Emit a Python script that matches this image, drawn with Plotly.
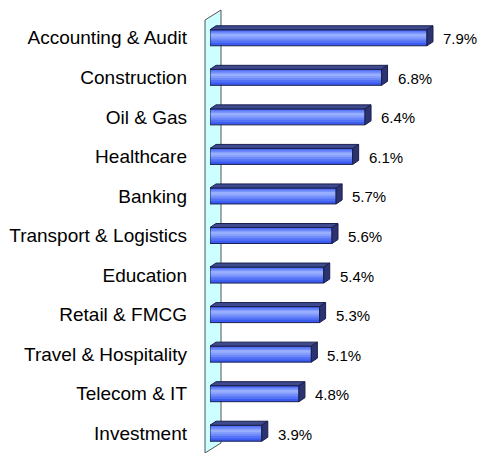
import plotly.graph_objects as go

categories = ["Accounting & Audit", "Construction", "Oil & Gas", "Healthcare", "Banking",
              "Transport & Logistics", "Education", "Retail & FMCG", "Travel & Hospitality",
              "Telecom & IT", "Investment"]
values = [7.9, 6.8, 6.4, 6.1, 5.7, 5.6, 5.4, 5.3, 5.1, 4.8, 3.9]
labels = [f"{v}%" for v in values]

# layout constants
W, H = 477, 453
ML, MR, MT, MB = 210, 7, 18, 0
PW, PH = W - ML - MR, H - MT - MB
XMIN = 2.646
XMAX = XMIN + PW / 41.3
n = len(categories)
YR = [n - 0.5, -0.5]
x_per_px = (XMAX - XMIN) / PW
y_per_px = n / PH
BAR_W = 16 * y_per_px
DX, DY = 6 * x_per_px, 4 * y_per_px   # 3D depth offsets

pos = list(range(n))
fig = go.Figure()

# front face: layered bars to imitate gradient
layers = [
    (1.00, 0.50, "#3a5bf0"),
    (0.78, 0.44, "#5472f5"),
    (0.55, 0.40, "#6d89fa"),
    (0.32, 0.38, "#869ffd"),
    (0.12, 0.36, "#98aeff"),
]
for k, (frac, cfrac, col) in enumerate(layers):
    w = BAR_W * frac
    off = -BAR_W / 2 + cfrac * BAR_W - w / 2
    fig.add_trace(go.Bar(
        x=[v - XMIN for v in values], base=XMIN, y=pos, orientation="h",
        width=w, offset=off,
        marker=dict(color=col, line=dict(width=0)),
        hoverinfo="skip", showlegend=False,
    ))
# outline
fig.add_trace(go.Bar(
    x=[v - XMIN for v in values], base=XMIN, y=pos, orientation="h",
    width=BAR_W, offset=-BAR_W / 2,
    marker=dict(color="rgba(0,0,0,0)", line=dict(width=1, color="#1c1f4f")),
    hoverinfo="skip", showlegend=False,
))

shapes = []
# back wall
shapes.append(dict(
    type="path", xref="paper", yref="paper", xsizemode="pixel", ysizemode="pixel",
    xanchor=0, yanchor=0, path="M -5,0 L -5,433 L 11,443 L 11,10 Z",
    fillcolor="#ccffff", line=dict(color="#555555", width=1), layer="below",
))
for i, v in enumerate(values):
    top = i - BAR_W / 2
    bot = i + BAR_W / 2
    # top face
    shapes.append(dict(
        type="path", xref="x", yref="y",
        path=f"M {XMIN},{top} L {v},{top} L {v + DX},{top - DY} L {XMIN + DX},{top - DY} Z",
        fillcolor="#3e4a8e", line=dict(color="#1c1f4f", width=1), layer="above",
    ))
    # side face
    shapes.append(dict(
        type="path", xref="x", yref="y",
        path=f"M {v},{top} L {v + DX},{top - DY} L {v + DX},{bot - DY} L {v},{bot} Z",
        fillcolor="#2b3470", line=dict(color="#1c1f4f", width=1), layer="above",
    ))

annotations = [
    dict(x=v, y=i, xref="x", yref="y", text=t, showarrow=False, xanchor="left",
         xshift=14, yshift=-1, font=dict(family="Liberation Sans, Arial", size=15, color="#000000"))
    for i, (v, t) in enumerate(zip(values, labels))
]

fig.update_layout(
    width=W, height=H,
    margin=dict(l=ML, r=MR, t=MT, b=MB, autoexpand=False),
    paper_bgcolor="white", plot_bgcolor="white",
    barmode="overlay",
    shapes=shapes, annotations=annotations,
    xaxis=dict(range=[XMIN, XMAX], visible=False, showgrid=False, zeroline=False,
               automargin=False),
    yaxis=dict(range=YR, tickvals=pos, ticktext=categories, showgrid=False, zeroline=False,
               showline=False, ticks="", ticklabelstandoff=22, automargin=False,
               tickfont=dict(family="Liberation Sans, Arial", size=19, color="#000000")),
    font=dict(family="Liberation Sans, Arial"),
)
fig.write_html("out.html", config={"displayModeBar": False},
               post_script="document.body.style.margin='0px';document.body.style.overflow='hidden';")
